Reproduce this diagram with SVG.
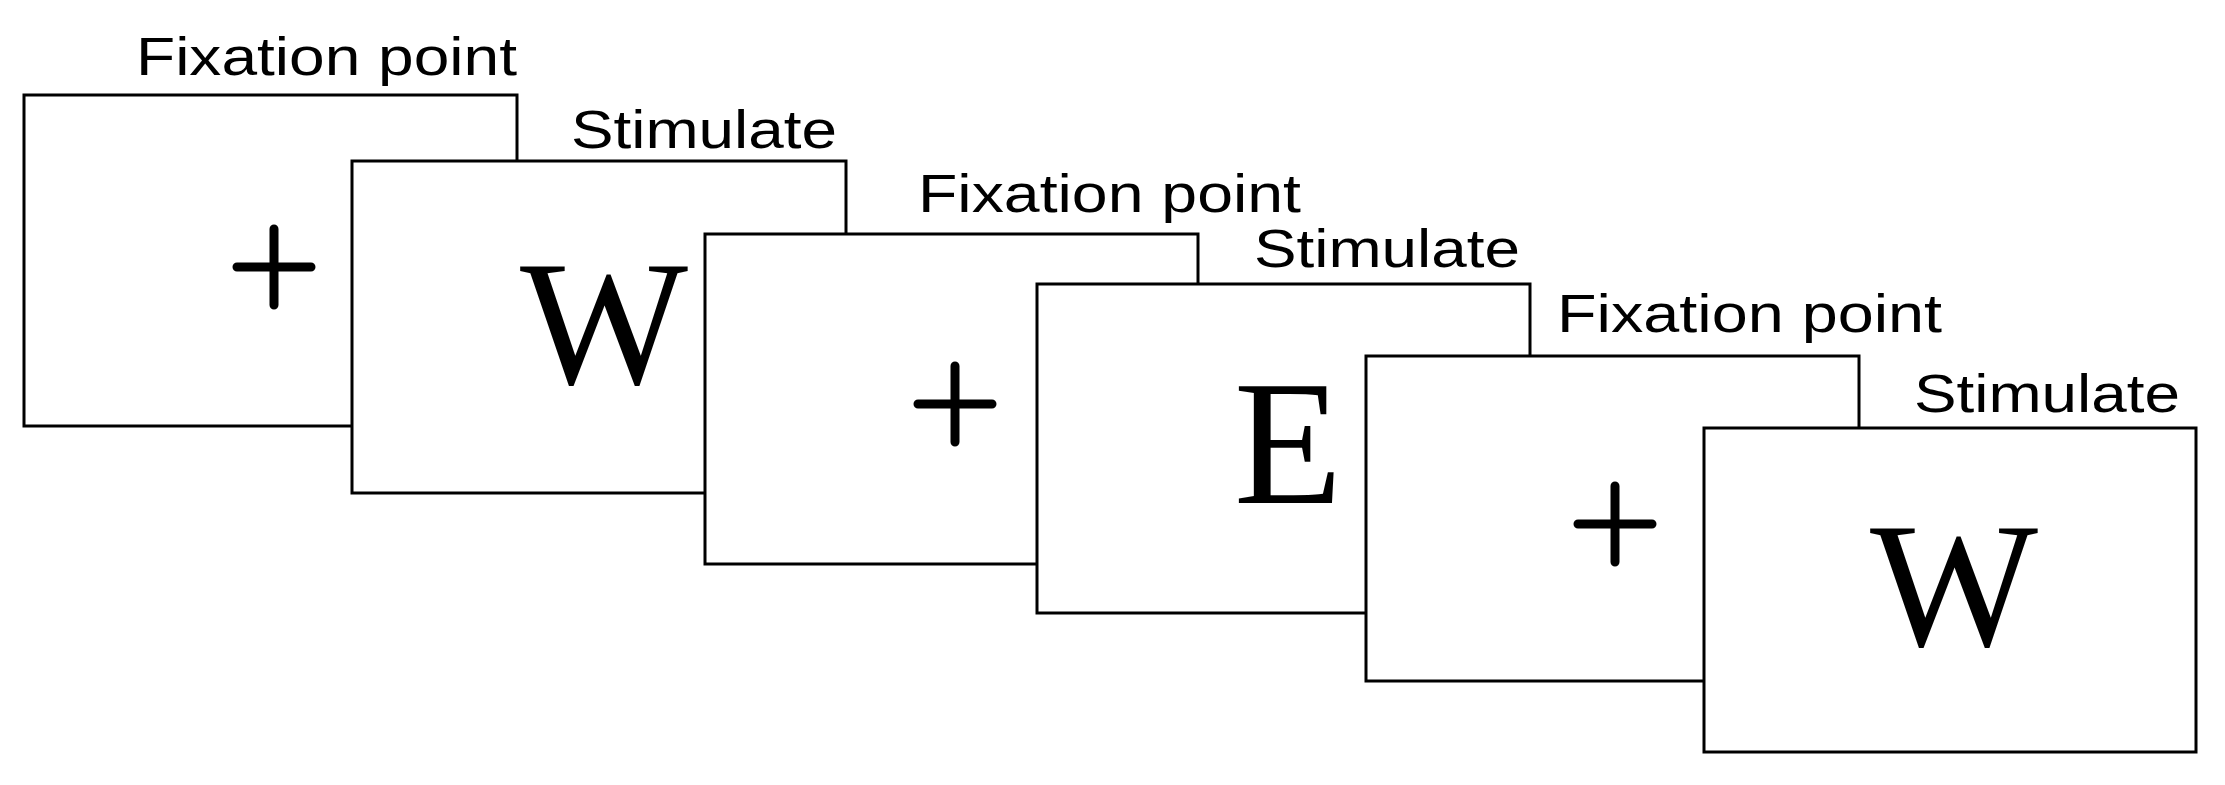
<svg xmlns="http://www.w3.org/2000/svg" width="2225" height="785" viewBox="0 0 2225 785">
<style>
.card{fill:#fff;stroke:#000;stroke-width:3}
.lbl{font-family:"Liberation Sans",Arial,sans-serif;font-size:54px;fill:#000}
.big{font-family:"Liberation Serif","Times New Roman",serif;font-size:178px;fill:#000;text-anchor:middle}
.plus{stroke:#000;stroke-width:9;stroke-linecap:round}
</style>
<rect width="2225" height="785" fill="#fff"/>
<g id="connectors"/>
<g id="n1">
<rect class="card" x="24" y="95" width="493" height="331"/>
<text class="lbl" x="136" y="75" textLength="381" lengthAdjust="spacingAndGlyphs">Fixation point</text>
<path class="plus" d="M237 267H311M274 229V305"/>
</g>
<g id="n2">
<rect class="card" x="352" y="161" width="494" height="332"/>
<text class="lbl" x="571" y="148" textLength="266" lengthAdjust="spacingAndGlyphs">Stimulate</text>
<text class="big" x="604" y="383">W</text>
</g>
<g id="n3">
<rect class="card" x="705" y="234" width="493" height="330"/>
<text class="lbl" x="918" y="212" textLength="383" lengthAdjust="spacingAndGlyphs">Fixation point</text>
<path class="plus" d="M918 404H992M955 366V442"/>
</g>
<g id="n4">
<rect class="card" x="1037" y="284" width="493" height="329"/>
<text class="lbl" x="1254" y="267" textLength="266" lengthAdjust="spacingAndGlyphs">Stimulate</text>
<text class="big" x="1288" y="503">E</text>
</g>
<g id="n5">
<rect class="card" x="1366" y="356" width="493" height="325"/>
<text class="lbl" x="1557" y="332" textLength="385" lengthAdjust="spacingAndGlyphs">Fixation point</text>
<path class="plus" d="M1578 524H1652M1615 486V562"/>
</g>
<g id="n6">
<rect class="card" x="1704" y="428" width="492" height="324"/>
<text class="lbl" x="1914" y="412" textLength="266" lengthAdjust="spacingAndGlyphs">Stimulate</text>
<text class="big" x="1954" y="645">W</text>
</g>
</svg>
